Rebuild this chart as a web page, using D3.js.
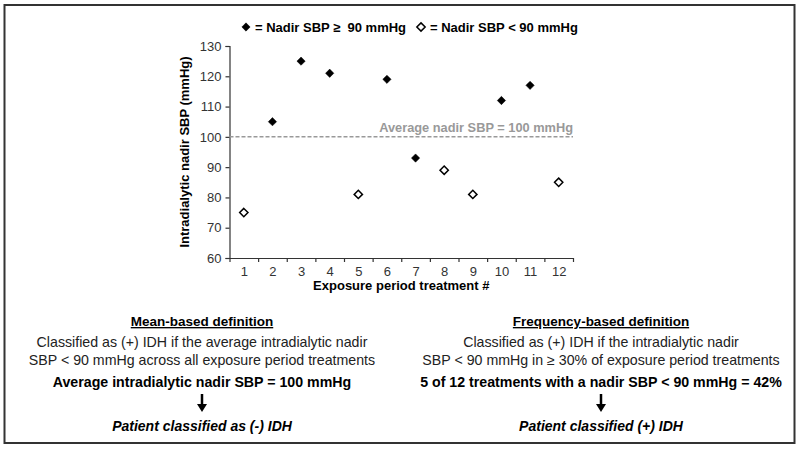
<!DOCTYPE html>
<html>
<head>
<meta charset="utf-8">
<script src="https://cdn.jsdelivr.net/npm/d3@7"></script>
<style>
  body { margin: 0; background: #fff; }
  svg { font-family: "Liberation Sans", Arial, sans-serif; }
</style>
</head>
<body>
<svg id="chart" width="800" height="449"></svg>
<script>
// treatment numbers and nadir SBP readings
var treatments = [1, 2, 3, 4, 5, 6, 7, 8, 9, 10, 11, 12];
var nadirSBP = [75, 105, 125, 121, 81, 119, 93, 89, 81, 112, 117, 85];
var yTicks = [60, 70, 80, 90, 100, 110, 120, 130];
var threshold = 90;
var averageSBP = 100;

var legendLabels = ["= Nadir SBP \u2265  90 mmHg", "= Nadir SBP < 90 mmHg"];
var meanLines = ["Classified as (+) IDH if the average intradialytic nadir",
                 "SBP < 90 mmHg across all exposure period treatments"];
var freqLines = ["Classified as (+) IDH if the intradialytic nadir",
                 "SBP < 90 mmHg in \u2265 30% of exposure period treatments"];

var svg = d3.select("#chart");

// outer frame
svg.append("rect").attr("x", 4.5).attr("y", 5).attr("width", 790).attr("height", 438)
    .style("fill", "none").style("stroke", "#333").style("stroke-width", 2);

var x = d3.scaleLinear().domain([0.5, 12.5]).range([229.5, 573]);
var y = d3.scaleLinear().domain([60, 130]).range([258, 46]);

// y axis
let yAxis = svg.append("g").attr("transform", "translate(229.5,0)")
    .call(d3.axisLeft(y).tickValues(yTicks).tickSize(4).tickPadding(4));
yAxis.selectAll("text").style("font-size", "13px").style("fill", "#333").style("font-family", "inherit");

// x axis: labels at treatment centres, ticks between treatments
let xAxis = svg.append("g").attr("transform", "translate(0,258)")
    .call(d3.axisBottom(x).tickValues(treatments).tickSize(0).tickPadding(9));
xAxis.selectAll("text").style("font-size", "13px").style("fill", "#333").style("font-family", "inherit");
svg.append("g").attr("transform", "translate(0,258)")
    .call(d3.axisBottom(x).tickValues(d3.range(0.5, 13, 1)).tickSize(4).tickFormat(""))
    .select(".domain").remove();
svg.selectAll(".domain, .tick line").style("stroke", "#333").style("stroke-width", 1.2);

// average line
svg.append("line").attr("x1", x(0.5)).attr("x2", x(12.5)).attr("y1", y(averageSBP)).attr("y2", y(averageSBP))
    .style("stroke", "#999").style("stroke-width", 1.5).style("stroke-dasharray", "4,2");
svg.append("text").attr("x", x(12.5)).attr("y", y(averageSBP) - 5).attr("text-anchor", "end")
    .style("font-size", "12.8px").style("font-weight", "bold").style("fill", "#999")
    .text("Average nadir SBP = " + averageSBP + " mmHg");

// points
let diamond = d3.symbol().type(d3.symbolDiamond2).size(44);
svg.selectAll("path.pt").data(treatments).enter().append("path").attr("class", "pt")
    .attr("transform", (d, i) => "translate(" + x(d) + "," + y(nadirSBP[i]) + ")")
    .attr("d", diamond)
    .style("fill", (d, i) => nadirSBP[i] >= threshold ? "#000" : "#fff")
    .style("stroke", "#000").style("stroke-width", (d, i) => nadirSBP[i] >= threshold ? 0.5 : 1.5);

// axis titles
svg.append("text").attr("transform", "translate(189," + (y(60) + y(130)) / 2 + ") rotate(-90)")
    .attr("text-anchor", "middle").style("font-size", "13px").style("font-weight", "bold")
    .text("Intradialytic nadir SBP (mmHg)");
svg.append("text").attr("x", (x(0.5) + x(12.5)) / 2).attr("y", 290).attr("text-anchor", "middle")
    .style("font-size", "13px").style("font-weight", "bold").text("Exposure period treatment #");

// legend
let legendX = [246, 421];
legendLabels.forEach(function(lbl, i) {
    svg.append("path").attr("transform", "translate(" + legendX[i] + ",27)").attr("d", diamond)
        .style("fill", i == 0 ? "#000" : "#fff").style("stroke", "#000").style("stroke-width", i == 0 ? 0.5 : 1.5);
    svg.append("text").attr("x", legendX[i] + 9).attr("y", 31.5)
        .style("font-size", "13px").style("font-weight", "bold").style("white-space", "pre").text(lbl);
});

// definitions below the chart
function definition(cx, title, lines, result, verdict) {
    svg.append("text").attr("x", cx).attr("y", 326).attr("text-anchor", "middle")
        .style("font-size", "13.5px").style("font-weight", "bold").style("text-decoration", "underline").text(title);
    lines.forEach(function(l, i) {
        svg.append("text").attr("x", cx).attr("y", 346.5 + i * 18.5).attr("text-anchor", "middle")
            .style("font-size", "14.2px").style("fill", "#222").text(l);
    });
    svg.append("text").attr("x", cx).attr("y", 386.5).attr("text-anchor", "middle")
        .style("font-size", "14.2px").style("font-weight", "bold").text(result);
    svg.append("line").attr("x1", cx).attr("x2", cx).attr("y1", 394).attr("y2", 405)
        .style("stroke", "#000").style("stroke-width", 2.5);
    svg.append("path").attr("d", "M" + (cx - 5) + ",404 L" + (cx + 5) + ",404 L" + cx + ",412 Z").style("fill", "#000");
    svg.append("text").attr("x", cx).attr("y", 431).attr("text-anchor", "middle")
        .style("font-size", "14px").style("font-weight", "bold").style("font-style", "italic").text(verdict);
}

definition(202, "Mean-based definition", meanLines,
    "Average intradialytic nadir SBP = " + averageSBP + " mmHg", "Patient classified as (-) IDH");
let below = nadirSBP.filter(v => v < threshold).length;
definition(601, "Frequency-based definition", freqLines,
    below + " of " + treatments.length + " treatments with a nadir SBP < " + threshold + " mmHg = " +
    Math.round(100 * below / treatments.length) + "%", "Patient classified (+) IDH");
</script>
</body>
</html>
